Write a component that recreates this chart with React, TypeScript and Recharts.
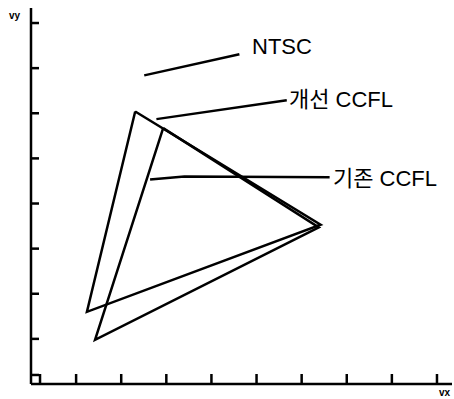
import { Line, LineChart, XAxis, YAxis } from "recharts";

// chromaticity points (0.1 per tick)
const improvedCcfl = [
  { x: 0.231, y: 0.604 },
  { x: 0.642, y: 0.353 },
  { x: 0.124, y: 0.16 },
  { x: 0.231, y: 0.604 },
];
const existingCcfl = [
  { x: 0.293, y: 0.567 },
  { x: 0.638, y: 0.347 },
  { x: 0.142, y: 0.098 },
  { x: 0.293, y: 0.567 },
];

// leader lines for the callouts
const ntscLeader = [
  { x: 0.251, y: 0.684 },
  { x: 0.462, y: 0.731 },
];
const improvedLeader = [
  { x: 0.278, y: 0.587 },
  { x: 0.567, y: 0.629 },
];
const existingLeader = [
  { x: 0.264, y: 0.453 },
  { x: 0.34, y: 0.46 },
  { x: 0.662, y: 0.458 },
];

const xTicks = [0.02, 0.1, 0.2, 0.3, 0.4, 0.5, 0.6, 0.7, 0.8, 0.9];
const yTicks = [0.02, 0.1, 0.2, 0.3, 0.4, 0.5, 0.6, 0.7, 0.8];

const labels = [
  { text: "NTSC", x: 252, y: 54 },
  { text: "개선 CCFL", x: 289, y: 107 },
  { text: "기존 CCFL", x: 333, y: 186 },
];

const W = 454;
const H = 399;
const FONT = '"Liberation Sans", Arial, "Noto Sans CJK KR", sans-serif';

const axisStroke = { stroke: "#000", strokeWidth: 2.5 };
const noLabel = () => "";

export default function App() {
  const series = [improvedCcfl, existingCcfl, ntscLeader, improvedLeader, existingLeader];
  return (
    <div style={{ position: "absolute", left: 0, top: 0, width: W, height: H, background: "#fff" }}>
      <LineChart width={W} height={H} margin={{ top: 8, right: 2, bottom: 15, left: 31 }}>
        <XAxis
          type="number"
          dataKey="x"
          domain={[0, 0.9333]}
          ticks={xTicks}
          height={1}
          mirror
          tickFormatter={noLabel}
          tickSize={10}
          axisLine={axisStroke}
          tickLine={axisStroke}
          allowDataOverflow
        />
        <YAxis
          type="number"
          dataKey="y"
          domain={[0, 0.8333]}
          ticks={yTicks}
          width={1}
          mirror
          tickFormatter={noLabel}
          tickSize={8}
          axisLine={axisStroke}
          tickLine={axisStroke}
          allowDataOverflow
        />
        {series.map((d, i) => (
          <Line
            key={i}
            data={d}
            dataKey="y"
            type="linear"
            stroke="#000"
            strokeWidth={2.5}
            dot={false}
            activeDot={false}
            isAnimationActive={false}
          />
        ))}
      </LineChart>
      <svg width={W} height={H} style={{ position: "absolute", left: 0, top: 0, pointerEvents: "none" }}>
        {labels.map((l) => (
          <text key={l.text} x={l.x} y={l.y} fontFamily={FONT} fontSize={22} fill="#000">
            {l.text}
          </text>
        ))}
        <text x={9} y={19} fontFamily={FONT} fontSize={10} fontWeight="bold" fill="#000">
          vy
        </text>
        <text x={439} y={396} fontFamily={FONT} fontSize={10} fontWeight="bold" fill="#000">
          vx
        </text>
      </svg>
    </div>
  );
}
